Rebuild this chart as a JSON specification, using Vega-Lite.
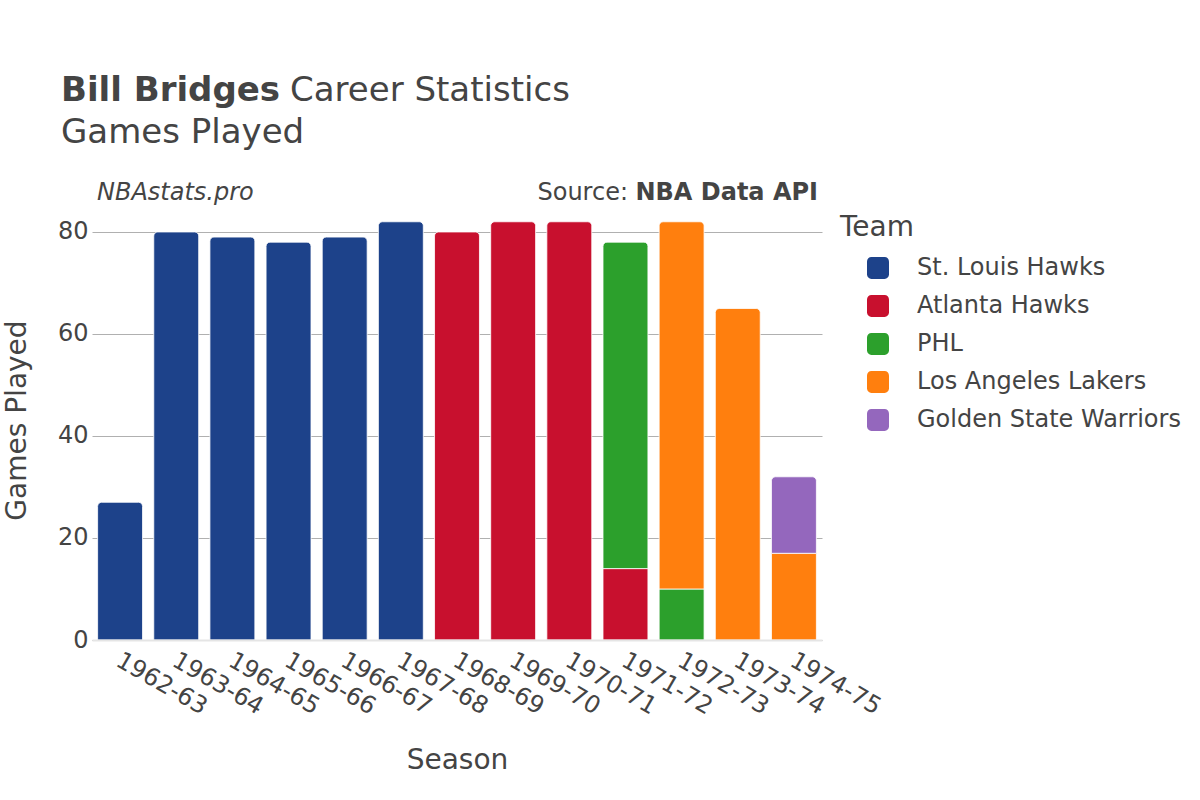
{
  "$schema": "https://vega.github.io/schema/vega-lite/v6.json",
  "width": 730,
  "height": 440,
  "autosize": {"type": "none"},
  "padding": {"left": 92, "top": 200, "right": 378, "bottom": 160},
  "background": "white",
  "config": {
    "view": {"stroke": null},
    "font": "DejaVu Sans",
    "text": {"font": "DejaVu Sans", "color": "#444"}
  },
  "datasets": {
    "games": [
      {"season": "1962-63", "team": "St. Louis Hawks", "games": 27},
      {"season": "1963-64", "team": "St. Louis Hawks", "games": 80},
      {"season": "1964-65", "team": "St. Louis Hawks", "games": 79},
      {"season": "1965-66", "team": "St. Louis Hawks", "games": 78},
      {"season": "1966-67", "team": "St. Louis Hawks", "games": 79},
      {"season": "1967-68", "team": "St. Louis Hawks", "games": 82},
      {"season": "1968-69", "team": "Atlanta Hawks", "games": 80},
      {"season": "1969-70", "team": "Atlanta Hawks", "games": 82},
      {"season": "1970-71", "team": "Atlanta Hawks", "games": 82},
      {"season": "1971-72", "team": "Atlanta Hawks", "games": 14},
      {"season": "1971-72", "team": "PHL", "games": 64},
      {"season": "1972-73", "team": "PHL", "games": 10},
      {"season": "1972-73", "team": "Los Angeles Lakers", "games": 72},
      {"season": "1973-74", "team": "Los Angeles Lakers", "games": 65},
      {"season": "1974-75", "team": "Los Angeles Lakers", "games": 17},
      {"season": "1974-75", "team": "Golden State Warriors", "games": 15}
    ]
  },
  "layer": [
    {
      "data": {"name": "games"},
      "transform": [
        {"window": [{"op": "row_number", "as": "idx"}]},
        {"stack": "games", "groupby": ["season"], "sort": [{"field": "idx", "order": "ascending"}], "as": ["y0", "y1"]},
        {"joinaggregate": [{"op": "max", "field": "y1", "as": "top"}], "groupby": ["season"]}
      ],
      "encoding": {
        "x": {
          "field": "season",
          "type": "nominal",
          "sort": ["1962-63", "1963-64", "1964-65", "1965-66", "1966-67", "1967-68", "1968-69", "1969-70", "1970-71", "1971-72", "1972-73", "1973-74", "1974-75"],
          "scale": {"paddingInner": 0.2, "paddingOuter": 0.1},
          "axis": {
            "title": "Season",
            "titleFont": "DejaVu Sans",
            "titleFontSize": 28,
            "titleFontWeight": "normal",
            "titleColor": "#444",
            "titlePadding": 28,
            "labelFont": "DejaVu Sans",
            "labelFontSize": 24,
            "labelColor": "#444",
            "labelAngle": 30,
            "labelAlign": "left",
            "labelBaseline": "top",
            "labelPadding": 8,
            "labelOffset": 4,
            "ticks": false,
            "domainColor": "#e5e5e5",
            "domainWidth": 2,
            "zindex": 1
          }
        },
        "y": {
          "field": "y0",
          "type": "quantitative",
          "scale": {"domain": [0, 86.27], "nice": false},
          "axis": {
            "title": "Games Played",
            "titleFont": "DejaVu Sans",
            "titleFontSize": 28,
            "titleFontWeight": "normal",
            "titleColor": "#444",
            "titlePadding": 26,
            "labelFont": "DejaVu Sans",
            "labelFontSize": 24,
            "labelColor": "#444",
            "labelPadding": 4,
            "values": [0, 20, 40, 60, 80],
            "ticks": false,
            "domain": false,
            "grid": true,
            "gridColor": "#b0b0b0",
            "gridWidth": 1
          }
        },
        "y2": {"field": "y1"},
        "color": {
          "field": "team",
          "type": "nominal",
          "sort": ["St. Louis Hawks", "Atlanta Hawks", "PHL", "Los Angeles Lakers", "Golden State Warriors"],
          "scale": {
            "domain": ["St. Louis Hawks", "Atlanta Hawks", "PHL", "Los Angeles Lakers", "Golden State Warriors"],
            "range": ["#1d428a", "#c8102e", "#2ca02c", "#ff7f0e", "#9467bd"]
          },
          "legend": {
            "title": "Team",
            "orient": "none",
            "legendX": 748,
            "legendY": 14,
            "titleFont": "DejaVu Sans",
            "titleFontSize": 28,
            "titleFontWeight": "normal",
            "titleColor": "#444",
            "titlePadding": 14,
            "labelFont": "DejaVu Sans",
            "labelFontSize": 24,
            "labelColor": "#444",
            "labelLimit": 0,
            "labelOffset": 27,
            "symbolOffset": 26,
            "symbolType": "M-0.6,-1H0.6A0.4,0.4,0,0,1,1,-0.6V0.6A0.4,0.4,0,0,1,0.6,1H-0.6A0.4,0.4,0,0,1,-1,0.6V-0.6A0.4,0.4,0,0,1,-0.6,-1Z",
            "symbolSize": 484,
            "symbolStrokeWidth": 0,
            "symbolOpacity": 1,
            "rowPadding": 14
          }
        }
      },
      "layer": [
        {
          "transform": [{"filter": "datum.y1 < datum.top"}],
          "mark": {"type": "bar", "stroke": "white", "strokeWidth": 0.8, "opacity": 1}
        },
        {
          "transform": [{"filter": "datum.y1 >= datum.top"}],
          "mark": {"type": "bar", "stroke": "white", "strokeWidth": 0.8, "opacity": 1, "cornerRadiusTopLeft": 4, "cornerRadiusTopRight": 4}
        }
      ]
    },
    {
      "data": {"values": [{}]},
      "mark": {"type": "text", "text": "Bill Bridges", "fontSize": 34, "fontWeight": "bold", "align": "left", "baseline": "alphabetic", "color": "#444"},
      "encoding": {"x": {"value": -31}, "y": {"value": -99}}
    },
    {
      "data": {"values": [{}]},
      "mark": {"type": "text", "text": "Career Statistics", "fontSize": 34, "align": "left", "baseline": "alphabetic", "color": "#444"},
      "encoding": {"x": {"value": 198}, "y": {"value": -99}}
    },
    {
      "data": {"values": [{}]},
      "mark": {"type": "text", "text": "Games Played", "fontSize": 34, "align": "left", "baseline": "alphabetic", "color": "#444"},
      "encoding": {"x": {"value": -31}, "y": {"value": -57}}
    },
    {
      "data": {"values": [{}]},
      "mark": {"type": "text", "text": "NBAstats.pro", "fontSize": 24, "fontStyle": "italic", "align": "left", "baseline": "alphabetic", "color": "#444"},
      "encoding": {"x": {"value": 5}, "y": {"value": 0}}
    },
    {
      "data": {"values": [{}]},
      "mark": {"type": "text", "text": "NBA Data API", "fontSize": 24, "fontWeight": "bold", "align": "right", "baseline": "alphabetic", "color": "#444"},
      "encoding": {"x": {"value": 726}, "y": {"value": 0}}
    },
    {
      "data": {"values": [{}]},
      "mark": {"type": "text", "text": "Source:", "fontSize": 24, "align": "right", "baseline": "alphabetic", "color": "#444"},
      "encoding": {"x": {"value": 536}, "y": {"value": 0}}
    }
  ]
}
